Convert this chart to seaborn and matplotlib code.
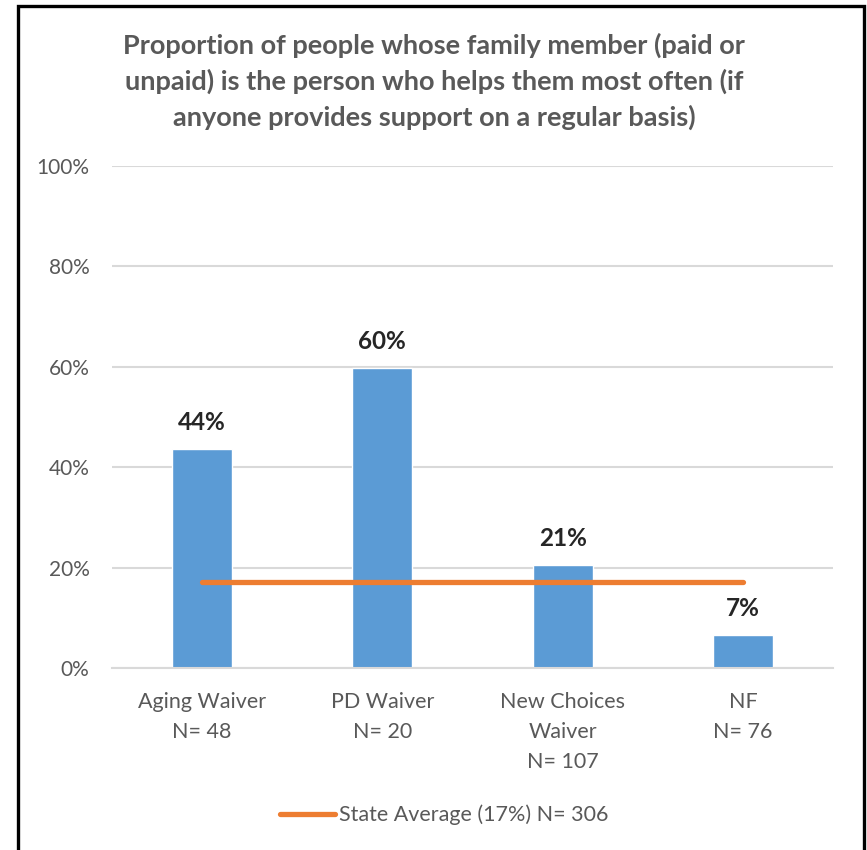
import numpy as np
import pandas as pd
import matplotlib
matplotlib.use("Agg")
import matplotlib.pyplot as plt
import seaborn as sns
from matplotlib.patches import Rectangle

# Datos del grafico
categorias = ["Aging Waiver\nN= 48", "PD Waiver\nN= 20", "New Choices\nWaiver\nN= 107", "NF\nN= 76"]
valores = [43.6, 59.8, 20.5, 6.5]
etiquetas = ["44%", "60%", "21%", "7%"]
promedio_estatal = 17.2
leyenda_promedio = "State Average (17%) N= 306"
titulo = ("Proportion of people whose family member (paid or\n"
          "unpaid) is the person who helps them most often (if\n"
          "anyone provides support on a regular basis)")

sns.set_theme(style="white")
plt.rcParams["font.family"] = ["Lato", "DejaVu Sans"]

df = pd.DataFrame({"categoria": categorias, "valor": valores})

fig = plt.figure(figsize=(8.67, 8.5), dpi=100)
ax = fig.add_axes([0.129, 0.214, 0.832, 0.591])

sns.barplot(data=df, x="categoria", y="valor", color="#5B9BD5", saturation=1,
            width=0.333, ax=ax, zorder=2)

# Linea del promedio estatal
pos = np.arange(len(categorias))
sns.lineplot(x=pos, y=[promedio_estatal] * len(pos), color="#ED7D31", linewidth=3.8,
             solid_capstyle="round", ax=ax, zorder=3, label=leyenda_promedio, legend=False)

# Etiquetas de valores
for p, v, t in zip(pos, valores, etiquetas):
    ax.text(p, v + 3.8, t, ha="center", va="baseline", fontsize=17.5, fontweight="bold",
            color="#262626")

ax.set_ylim(0, 100)
ax.set_xlim(-0.5, len(categorias) - 0.5)
ax.set_yticks(range(0, 101, 20))
ax.set_yticklabels([f"{t}%" for t in range(0, 101, 20)])
ax.yaxis.grid(True, color="#D9D9D9", linewidth=1.5, zorder=0)
ax.set_axisbelow(True)
ax.tick_params(axis="both", colors="#595959", length=0)
ax.tick_params(axis="y", pad=16, labelsize=15)
ax.tick_params(axis="x", pad=17, labelsize=15.5)
for lbl in ax.get_xticklabels():
    lbl.set_linespacing(1.62)
ax.set_xlabel("")
ax.set_ylabel("")
for s in ["top", "right", "left"]:
    ax.spines[s].set_visible(False)
ax.spines["bottom"].set_color("#D9D9D9")
ax.spines["bottom"].set_linewidth(1.5)

fig.text(0.501, 0.961, titulo, ha="center", va="top", fontsize=19.5, fontweight="bold",
         color="#595959", linespacing=1.5)

handles, labels = ax.get_legend_handles_labels()
fig.legend(handles, labels, loc="center", bbox_to_anchor=(0.512, 0.041), frameon=False,
           fontsize=15.5, labelcolor="#595959", handlelength=2.55, handletextpad=0.2)

# Marco negro exterior
fig.patches.append(Rectangle((0.021, -0.05), 0.976, 1.043, transform=fig.transFigure,
                             fill=False, edgecolor="black", linewidth=2.4))

fig.savefig("out.png", dpi=100)
